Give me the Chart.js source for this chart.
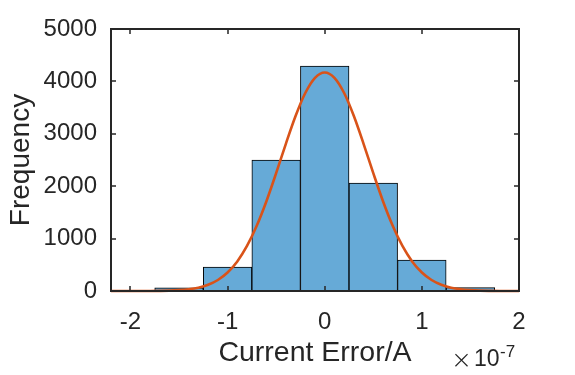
<!DOCTYPE html>
<html>
<head>
<meta charset="utf-8">
<script src="https://cdn.jsdelivr.net/npm/chart.js@4"></script>
<style>
  html, body { margin: 0; padding: 0; background: #fff; }
  #wrap { width: 575px; height: 375px; }
</style>
</head>
<body>
<div id="wrap"><canvas id="c" width="575" height="375"></canvas></div>
<script>
// Histogram bins (x in units of 1e-7 A)
const binCenters = [-1.5, -1.0, -0.5, 0.0, 0.5, 1.0, 1.5];
const binCounts  = [60, 455, 2500, 4290, 2060, 590, 65];

// Fitted normal curve
const curveX = [-2.2, -2.1, -2.0, -1.9, -1.8, -1.7, -1.6, -1.5, -1.4, -1.3, -1.2, -1.1, -1.0, -0.9, -0.8, -0.7, -0.6, -0.5, -0.4, -0.3, -0.2, -0.1,
                0.0, 0.1, 0.2, 0.3, 0.4, 0.5, 0.6, 0.7, 0.8, 0.9, 1.0, 1.1, 1.2, 1.3, 1.4, 1.5, 1.6, 1.7, 1.8, 1.9, 2.0];
const curveY = [0, 0, 0, 0, 1, 3, 7, 16, 33, 64, 119, 210, 353, 564, 859, 1244, 1714, 2249, 2809, 3339, 3778, 4068,
                4170, 4068, 3778, 3339, 2809, 2249, 1714, 1244, 859, 564, 353, 210, 119, 64, 33, 16, 7, 3, 1, 0, 0];

const xTicks = [-2, -1, 0, 1, 2];
const yTicks = [0, 1000, 2000, 3000, 4000, 5000];

const txt = '#262626';
const fam = '"Liberation Sans", Arial, sans-serif';

const boxPlugin = {
  id: 'box',
  afterDraw(chart) {
    const ctx = chart.ctx, a = chart.chartArea;
    const xs = chart.scales.x, ys = chart.scales.y;
    ctx.save();
    ctx.strokeStyle = txt;
    ctx.lineWidth = 1.5;
    const tl = 5;
    ctx.beginPath();
    xTicks.forEach(v => {
      const px = Math.round(xs.getPixelForValue(v));
      ctx.moveTo(px, a.bottom); ctx.lineTo(px, a.bottom - tl);
      ctx.moveTo(px, a.top); ctx.lineTo(px, a.top + tl);
    });
    yTicks.forEach(v => {
      const py = Math.round(ys.getPixelForValue(v));
      ctx.moveTo(a.left, py); ctx.lineTo(a.left + tl, py);
      ctx.moveTo(a.right, py); ctx.lineTo(a.right - tl, py);
    });
    ctx.stroke();
    ctx.lineWidth = 2;
    ctx.beginPath();
    ctx.rect(Math.round(a.left), Math.round(a.top), Math.round(a.right - a.left), Math.round(a.bottom - a.top));
    ctx.stroke();
    // exponent label (x10^-7)
    ctx.fillStyle = txt;
    ctx.textBaseline = 'alphabetic';
    ctx.textAlign = 'left';
    ctx.font = '200 25px "DejaVu Sans", sans-serif';
    ctx.fillText('\u00d7', 451, 368);
    ctx.font = '23px ' + fam;
    ctx.fillText('10', 474, 366);
    ctx.font = '17px ' + fam;
    ctx.fillText('-7', 500, 357);
    ctx.restore();
  }
};

new Chart(document.getElementById('c'), {
  data: {
    datasets: [
      {
        type: 'line',
        data: curveX.map((x, i) => ({ x: x, y: curveY[i] })),
        borderColor: '#D95319',
        borderWidth: 2.6,
        pointRadius: 0,
        cubicInterpolationMode: 'monotone',
        fill: false,
        order: 0,
        clip: false
      },
      {
        type: 'bar',
        data: binCenters.map((x, i) => ({ x: x, y: binCounts[i] })),
        backgroundColor: '#66AAD7',
        borderColor: '#000000',
        borderWidth: 1,
        borderSkipped: false,
        barPercentage: 1.0,
        categoryPercentage: 1.0,
        order: 1
      }
    ]
  },
  options: {
    responsive: false,
    animation: false,
    layout: { padding: { left: 0, right: 56, top: 29, bottom: 0 } },
    plugins: { legend: { display: false }, tooltip: { enabled: false } },
    scales: {
      x: {
        type: 'linear',
        min: -2.2,
        max: 2,
        offset: false,
        afterBuildTicks: s => { s.ticks = xTicks.map(v => ({ value: v })); },
        afterFit: s => { s.height = 84; },
        grid: { display: false, drawTicks: false },
        border: { display: false },
        ticks: { color: txt, font: { family: fam, size: 24 }, padding: 17, maxRotation: 0, autoSkip: false,
                 callback: v => String(v) },
        title: { display: true, text: 'Current Error/A', color: txt, font: { family: fam, size: 28.5 }, padding: { top: 0, bottom: 5 } }
      },
      y: {
        type: 'linear',
        min: 0,
        max: 5000,
        afterBuildTicks: s => { s.ticks = yTicks.map(v => ({ value: v })); },
        afterFit: s => { s.width = 111; },
        grid: { display: false, drawTicks: false },
        border: { display: false },
        ticks: { color: txt, font: { family: fam, size: 24 }, padding: 14, autoSkip: false,
                 callback: v => String(v) },
        title: { display: true, text: 'Frequency', color: txt, font: { family: fam, size: 28 }, padding: { top: 4, bottom: 0 } }
      }
    }
  },
  plugins: [boxPlugin]
});
</script>
</body>
</html>
